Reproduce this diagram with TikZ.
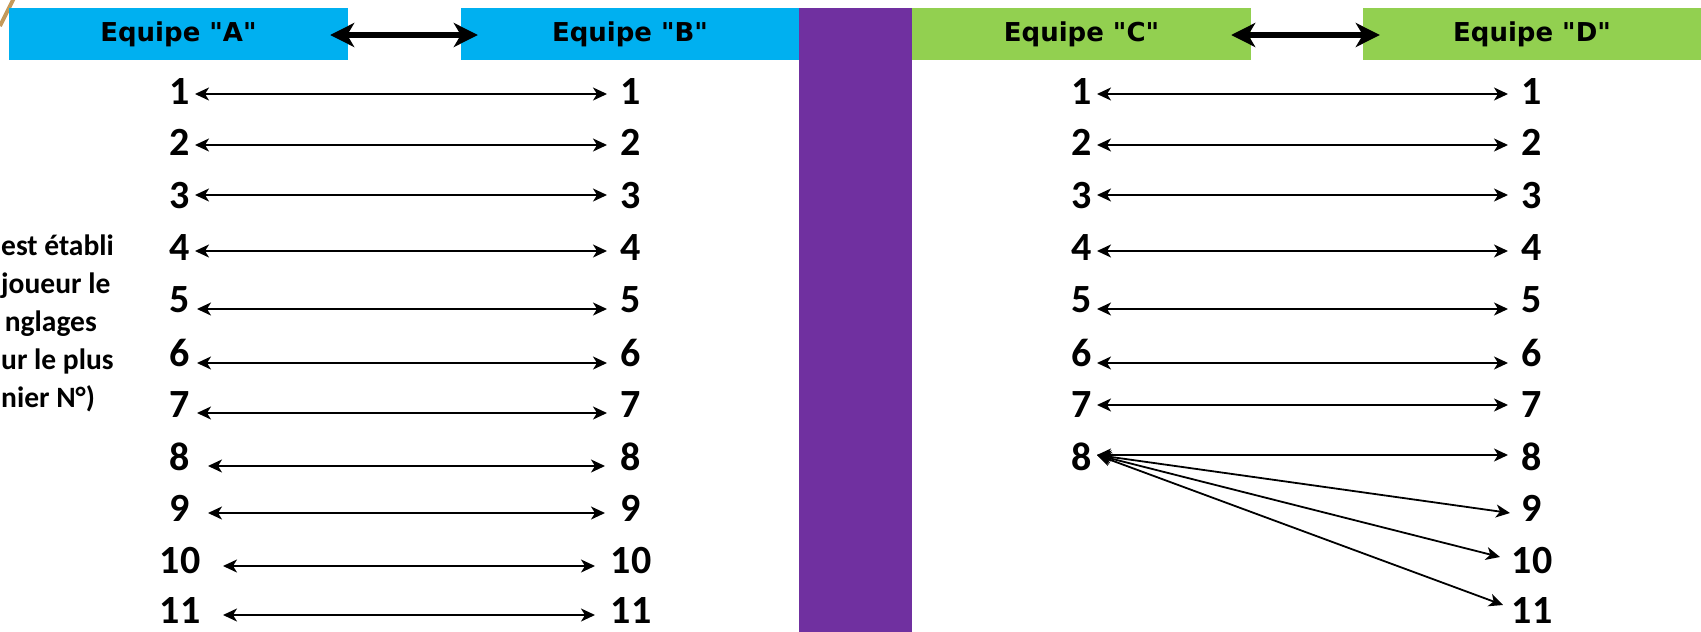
\documentclass[tikz,border=0pt]{standalone}
\usepackage{fontspec}
\setmainfont{Carlito}
\newfontfamily\hdrfont{DejaVu Sans}
\usetikzlibrary{arrows.meta}
\definecolor{teamblue}{HTML}{00B0F0}
\definecolor{teamgreen}{HTML}{92D050}
\definecolor{sepcol}{HTML}{7030A0}
\definecolor{goldline}{HTML}{C49A5A}
\begin{document}
\begin{tikzpicture}[x=1pt,y=-1pt,
  hdrbox/.style={minimum height=52pt, inner sep=0pt, text=black,
    font=\hdrfont\bfseries\fontsize{26}{30}\selectfont},
  num/.style={inner sep=0pt, font=\bfseries\fontsize{40}{44}\selectfont},
  sidetext/.style={inner sep=0pt, anchor=base west, font=\bfseries\fontsize{29.5}{34}\selectfont},
  link/.style={line width=1.8pt, {Stealth[length=14pt,width=13pt,inset=4pt]}-{Stealth[length=14pt,width=13pt,inset=4pt]}},
  biglink/.style={line width=6pt, {Stealth[length=24pt,width=24pt,inset=7pt]}-{Stealth[length=24pt,width=24pt,inset=7pt]}}
]
\useasboundingbox (0,0) rectangle (1701,632);
\begin{scope}
\clip (0,0) rectangle (1701,632);
\draw[goldline, line width=4pt] (0,26) -- (14,-2);
\end{scope}
% side text
\node[sidetext] (s1) at (1,255) {est établi};
\node[sidetext] (s2) at (1,293) {joueur le};
\node[sidetext, anchor=base east] (s3) at (97,331) {nglages};
\node[sidetext] (s4) at (1,369) {ur le plus};
\node[sidetext] (s5) at (1,407) {nier N°)};
% headers
\node[hdrbox, fill=teamblue, minimum width=339pt] (A) at (178.5,34) {Equipe "A"};
\node[hdrbox, fill=teamblue, minimum width=338pt] (B) at (630,34) {Equipe "B"};
\node[hdrbox, fill=teamgreen, minimum width=339pt] (C) at (1081.5,34) {Equipe "C"};
\node[hdrbox, fill=teamgreen, minimum width=338pt] (D) at (1532,34) {Equipe "D"};
\fill[sepcol] (799,8) rectangle (912,632);
\draw[biglink, shorten <=-18pt, shorten >=-17pt] ([yshift=-1pt]A.east) -- ([yshift=-1pt]B.west);
\draw[biglink, shorten <=-20pt, shorten >=-17pt] ([yshift=-1pt]C.east) -- ([yshift=-1pt]D.west);
% left panel
\foreach \n/\y/\ay/\xl/\xr in {1/92/94/195/607, 2/142/145/195/607, 3/196/195/195/607,
  4/248/251/195/607, 5/300/309/197/607, 6/353/363/197/607, 7/405/413/197/607,
  8/457/466/208/605, 9/508/513/208/605, 10/561/566/223/595, 11/611/615/223/595}{
  \node[num] (L\n) at (180,\y) {\n};
  \node[num] (R\n) at (631,\y) {\n};
  \coordinate (la\n) at (\xl,\ay);
  \coordinate (ra\n) at (\xr,\ay);
  \draw[link] (la\n) -- (ra\n);
}
% right panel
\foreach \n/\y in {1/92, 2/142, 3/196, 4/248, 5/300, 6/353, 7/405, 8/457, 9/508, 10/561, 11/611}{
  \node[num] (D\n) at (1532,\y) {\n};
}
\foreach \n/\y in {1/92, 2/142, 3/196, 4/248, 5/300, 6/353, 7/405, 8/457}{
  \node[num] (C\n) at (1082,\y) {\n};
}
\foreach \n/\ay in {1/94, 2/145, 3/195, 4/251, 5/309, 6/363, 7/405}{
  \coordinate (ca\n) at (1097,\ay);
  \coordinate (da\n) at (1508,\ay);
  \draw[link] (ca\n) -- (da\n);
}
\coordinate (ca8) at (1097,455);
\coordinate (da8) at (1508,455);
\coordinate (da9) at (1510,513);
\coordinate (da10) at (1500,557);
\coordinate (da11) at (1503,605);
\foreach \t in {8,9,10,11}{
  \draw[link] (ca8) -- (da\t);
}
\end{tikzpicture}
\end{document}
